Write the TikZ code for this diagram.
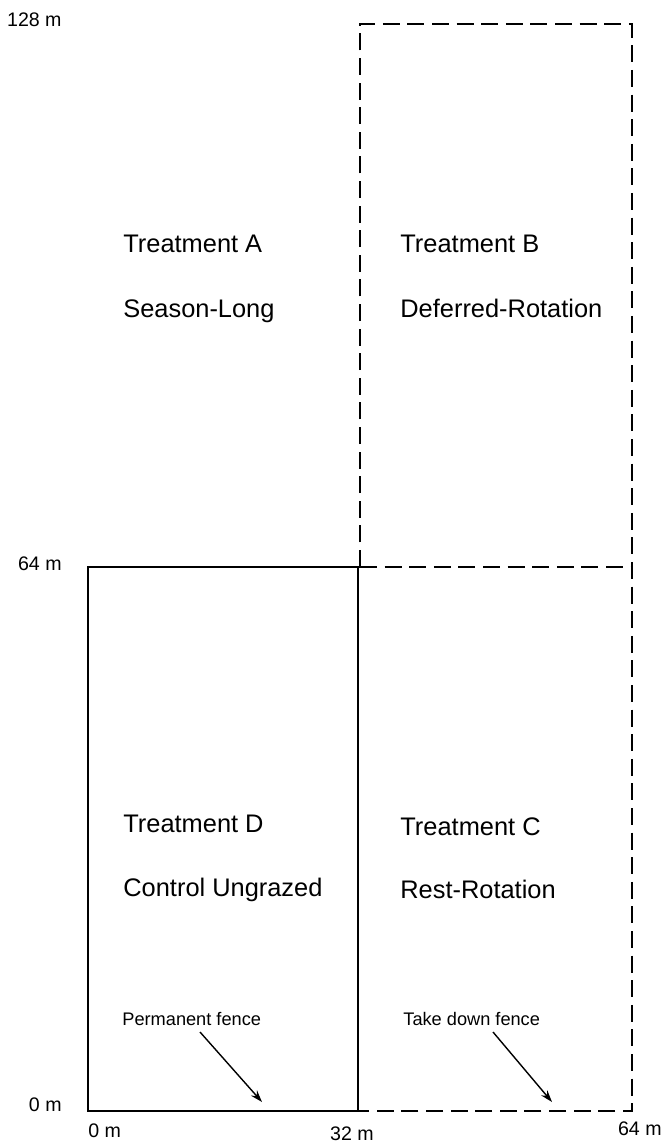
\documentclass[tikz,border=0pt]{standalone}
\usepackage{fontspec}
\setmainfont{Liberation Sans}
\usetikzlibrary{arrows.meta}
\begin{document}
\begin{tikzpicture}[x=0.5pt,y=-0.5pt,
  fence/.style={line width=1.25pt},
  tfence/.style={line width=1.25pt,dash pattern=on 8.5pt off 3.8pt},
  big/.style={anchor=base west,inner sep=0pt,font=\fontsize{12.7}{15}\selectfont},
  small/.style={anchor=base west,inner sep=0pt,font=\fontsize{9.1}{11}\selectfont},
  axis/.style={inner sep=0pt,font=\fontsize{9.8}{12}\selectfont},
  pointer/.style={line width=0.7pt,-{Stealth[length=6pt,width=4pt]}}]
\useasboundingbox (0,0) rectangle (662,1144);
% fences
\draw[tfence] (360,567) -- (360,24) -- (632,24) -- (632,1111) -- (358,1111);
\draw[tfence] (360,567) -- (632,567);
\draw[fence] (358,1111) -- (88,1111) -- (88,567) -- (360,567);
\draw[fence] (358,567) -- (358,1111);
% treatment labels
\node[big] (ta) at (123,253) {Treatment A};
\node[big] (sa) at (123,318) {Season-Long};
\node[big] (tb) at (400,253) {Treatment B};
\node[big] (sb) at (400,318) {Deferred-Rotation};
\node[big] (td) at (123,832) {Treatment D};
\node[big] (sd) at (123,896) {Control Ungrazed};
\node[big] (tc) at (400,835) {Treatment C};
\node[big] (sc) at (400,898) {Rest-Rotation};
% fence labels and pointers
\node[small] (pf) at (122,1025) {Permanent fence};
\node[small] (tdf) at (403,1025) {Take down fence};
\coordinate (pfs) at (200,1032);
\coordinate (pfe) at (262,1102);
\coordinate (tds) at (493,1032);
\coordinate (tde) at (552,1102);
\draw[pointer] (pfs) -- (pfe);
\draw[pointer] (tds) -- (tde);
% axis labels
\node[axis,anchor=base east] (l128) at (62,27) {128 m};
\node[axis,anchor=base east] (l64) at (62,570) {64 m};
\node[axis,anchor=base east] (l0) at (62,1111) {0 m};
\node[axis,anchor=base west] (b0) at (88,1137) {0 m};
\node[axis,anchor=base] (b32) at (352,1140) {32 m};
\node[axis,anchor=base east] (b64) at (662,1135) {64 m};
\end{tikzpicture}
\end{document}
